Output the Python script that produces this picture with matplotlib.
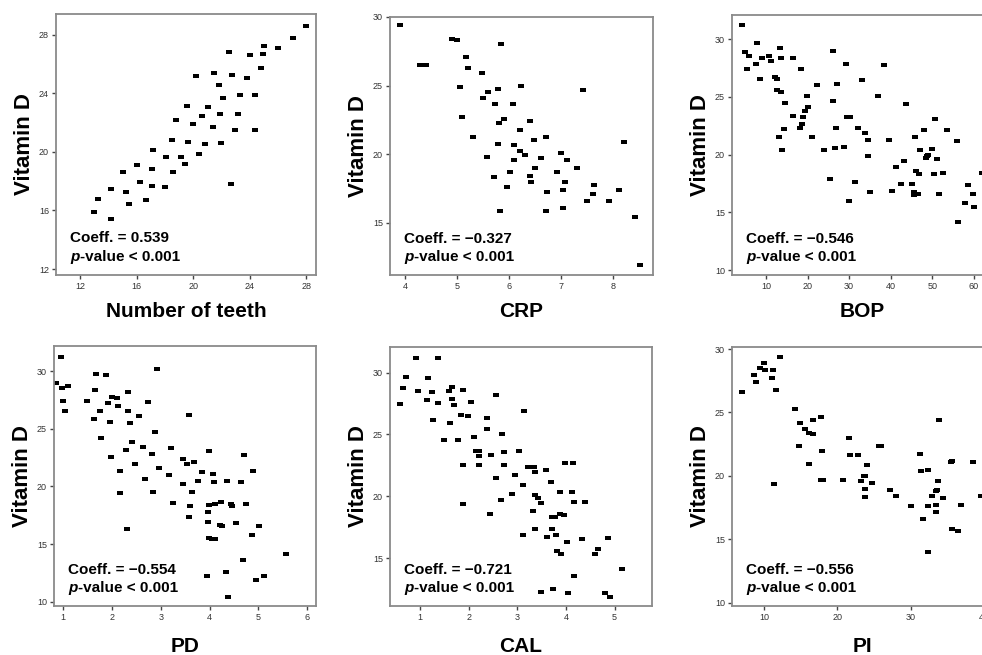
import matplotlib
matplotlib.use("Agg")
import matplotlib.pyplot as plt
from matplotlib.path import Path

plt.rcParams["font.family"] = ["Liberation Sans", "DejaVu Sans"]

# ---- data (x: clinical parameter, y: vitamin D) ----
teeth_x = [13.0, 13.25, 14.2, 14.17, 15.07, 15.23, 15.45, 16.0, 16.25, 16.65,
           17.1, 17.07, 17.17, 18.04, 18.1, 18.5, 18.6, 18.8, 19.15, 19.4,
           19.58, 19.65, 20.0, 20.2, 20.4, 20.66, 20.87, 21.06, 21.4, 21.5,
           21.8, 21.9, 22.0, 22.1, 22.57, 22.7, 22.76, 23.0, 23.2, 23.3,
           23.8, 24.04, 24.4, 24.4, 24.8, 24.96, 25.0, 26.0, 27.06, 28.0]
teeth_y = [15.9, 16.77, 17.45, 15.43, 18.6, 17.24, 16.47, 19.1, 17.92, 16.72,
           18.8, 17.67, 20.1, 17.63, 19.65, 20.78, 18.63, 22.17, 19.67, 19.17,
           23.12, 20.69, 21.87, 25.14, 19.83, 22.46, 20.51, 23.07, 21.67, 25.41,
           24.55, 22.55, 20.62, 23.64, 26.84, 17.79, 25.23, 21.49, 22.57, 23.89,
           25.05, 26.57, 23.87, 21.49, 25.73, 26.64, 27.25, 27.07, 27.75, 28.61]

crp_x = [3.9, 4.29, 4.4, 4.9, 5.0, 5.17, 5.2, 5.05, 5.1, 5.3,
         5.47, 5.5, 5.6, 5.58, 5.7, 5.72, 5.78, 5.8, 5.78, 5.85,
         5.83, 5.9, 5.95, 6.01, 6.08, 6.1, 6.09, 6.2, 6.2, 6.22,
         6.31, 6.39, 6.4, 6.41, 6.47, 6.5, 6.6, 6.7, 6.72, 6.7,
         6.92, 7.0, 7.03, 7.03, 7.07, 7.1, 7.31, 7.42, 7.5, 7.62,
         7.61, 7.92, 8.1, 8.2, 8.42, 8.51]
crp_y = [29.42, 26.52, 26.52, 28.42, 28.34, 27.08, 26.25, 24.89, 22.72, 21.26,
         25.93, 24.08, 24.55, 19.77, 18.36, 23.69, 24.74, 22.3, 20.72, 28.03,
         15.83, 22.55, 17.58, 18.7, 23.62, 20.67, 19.55, 21.77, 20.21, 24.98,
         19.9, 22.43, 18.39, 18.0, 21.04, 19.02, 19.75, 21.26, 17.22, 15.83,
         18.7, 20.09, 17.39, 16.07, 17.95, 19.55, 18.95, 24.67, 16.6, 17.78,
         17.07, 16.6, 17.39, 20.87, 15.41, 11.93]

bop_x = [4.23, 4.87, 5.51, 5.91, 7.68, 7.92, 8.56, 8.96, 10.72, 11.2,
         12.24, 12.64, 12.64, 13.36, 13.52, 13.52, 13.2, 13.77, 14.25, 14.65,
         16.57, 16.57, 18.09, 18.49, 18.57, 18.81, 19.38, 19.94, 20.02, 21.14,
         22.26, 23.86, 25.46, 26.02, 26.18, 26.82, 27.0, 26.5, 28.67, 29.23,
         29.39, 30.19, 29.95, 31.47, 32.2, 33.0, 33.8, 34.52, 34.52, 34.92,
         37.0, 38.45, 39.49, 40.2, 41.3, 42.4, 43.3, 43.7, 45.0, 45.8,
         45.66, 46.0, 45.7, 46.5, 46.9, 47.0, 48.06, 48.46, 48.62, 49.0,
         49.9, 50.4, 50.6, 51.2, 51.7, 52.6, 53.43, 55.83, 56.07, 57.76,
         58.65, 59.84, 59.94, 61.86]
bop_y = [31.18, 28.9, 27.4, 28.5, 27.83, 29.62, 26.5, 28.35, 28.5, 28.06,
         26.7, 26.5, 25.58, 29.22, 28.35, 25.4, 21.56, 20.4, 22.2, 24.45,
         23.35, 28.35, 22.28, 27.4, 22.66, 23.29, 23.76, 25.09, 24.13, 21.56,
         26.01, 20.4, 17.86, 24.62, 28.99, 22.28, 26.07, 20.55, 20.64, 27.86,
         23.24, 23.24, 15.95, 17.66, 22.28, 26.47, 21.88, 21.27, 19.83, 16.73,
         25.09, 27.77, 21.27, 16.88, 18.93, 17.43, 19.4, 24.39, 17.43, 21.53,
         16.76, 18.58, 16.5, 16.56, 18.32, 20.4, 22.14, 19.68, 19.88, 19.97,
         20.46, 18.35, 23.06, 19.62, 16.6, 18.44, 22.14, 21.13, 14.16, 15.81,
         17.34, 16.6, 15.43, 18.38]

pd_x = [0.86, 0.95, 0.98, 1.0, 1.05, 1.11, 1.5, 1.63, 1.65, 1.68,
        1.75, 1.78, 1.89, 1.93, 1.97, 1.99, 2.0, 2.11, 2.13, 2.17,
        2.17, 2.33, 2.34, 2.3, 2.31, 2.38, 2.41, 2.47, 2.56, 2.64,
        2.68, 2.75, 2.82, 2.85, 2.88, 2.93, 2.97, 3.17, 3.21, 3.25,
        3.46, 3.46, 3.54, 3.57, 3.59, 3.6, 3.64, 3.69, 3.77, 3.84,
        3.94, 3.96, 3.97, 3.98, 3.98, 3.99, 4.05, 4.08, 4.1, 4.12,
        4.12, 4.21, 4.23, 4.25, 4.33, 4.36, 4.38, 4.45, 4.46, 4.54,
        4.64, 4.68, 4.7, 4.75, 4.86, 4.89, 4.95, 5.02, 5.12, 5.56]
pd_y = [28.93, 31.18, 28.53, 27.43, 26.56, 28.7, 27.43, 25.81, 28.35, 29.77,
        26.5, 24.19, 29.62, 27.25, 25.58, 22.57, 27.77, 27.63, 26.94, 21.3,
        19.39, 28.18, 26.56, 23.12, 16.27, 25.46, 23.82, 21.97, 26.07, 23.38,
        20.66, 27.31, 22.8, 19.54, 24.68, 30.2, 21.59, 20.98, 23.29, 18.58,
        22.34, 20.17, 21.91, 17.34, 26.18, 18.29, 19.48, 22.11, 20.46, 21.24,
        12.25, 16.88, 17.77, 18.38, 23.09, 15.54, 15.46, 21.09, 20.37, 15.4,
        18.44, 16.64, 18.61, 16.56, 12.57, 20.46, 10.4, 18.47, 18.29, 16.84,
        20.37, 13.6, 22.74, 18.44, 15.78, 21.33, 11.87, 16.56, 12.25, 14.15]

cal_x = [0.59, 0.66, 0.71, 0.92, 0.95, 1.14, 1.17, 1.24, 1.27, 1.36,
         1.36, 1.49, 1.6, 1.62, 1.65, 1.65, 1.69, 1.78, 1.84, 1.88,
         1.89, 1.89, 1.99, 2.04, 2.1, 2.15, 2.21, 2.22, 2.21, 2.37,
         2.37, 2.43, 2.46, 2.56, 2.57, 2.69, 2.72, 2.72, 2.67, 2.89,
         2.96, 3.04, 3.13, 3.11, 3.12, 3.22, 3.33, 3.35, 3.37, 3.37,
         3.42, 3.36, 3.49, 3.59, 3.61, 3.48, 3.7, 3.72, 3.78, 3.72,
         3.73, 3.8, 3.81, 3.88, 3.88, 3.9, 3.96, 3.98, 4.03, 4.04,
         4.14, 4.13, 4.16, 4.16, 4.34, 4.4, 4.59, 4.66, 4.87, 4.81,
         4.91, 5.16]
cal_y = [27.42, 28.71, 29.62, 31.18, 28.49, 27.77, 29.57, 28.41, 26.18, 31.18,
         27.5, 24.54, 28.49, 25.91, 28.84, 27.9, 27.39, 24.54, 26.59, 28.6,
         22.55, 19.35, 26.48, 27.61, 24.81, 23.63, 23.63, 23.25, 22.53, 26.32,
         25.43, 18.55, 23.33, 21.48, 28.17, 25.03, 23.58, 22.53, 19.68, 20.19,
         21.72, 23.68, 26.91, 20.91, 16.88, 22.39, 18.82, 22.39, 20.11, 21.96,
         19.89, 17.39, 19.46, 22.12, 16.69, 12.26, 21.13, 18.31, 18.31, 17.37,
         12.53, 16.91, 15.62, 20.38, 18.58, 15.38, 18.49, 22.72, 16.32, 12.23,
         22.72, 20.38, 19.54, 13.58, 16.53, 19.54, 15.38, 15.73, 16.61, 12.23,
         11.91, 14.14]

pi_x = [7.0, 8.59, 8.96, 9.5, 9.95, 10.09, 11.13, 11.27, 11.59, 11.36,
        12.22, 14.26, 14.94, 14.81, 15.53, 16.17, 16.62, 16.12, 16.67, 17.76,
        17.71, 17.98, 17.89, 20.79, 21.56, 21.75, 22.79, 23.24, 23.65, 23.83,
        24.06, 23.74, 23.79, 24.74, 25.65, 26.0, 27.19, 28.05, 30.05, 31.22,
        31.45, 31.63, 32.4, 32.31, 32.4, 33.67, 33.4, 33.6, 32.95, 34.44,
        33.4, 33.4, 33.85, 35.49, 35.67, 38.53, 36.85, 35.67, 36.4, 39.52]
pi_y = [26.58, 27.95, 27.39, 28.47, 28.87, 28.37, 27.68, 28.37, 26.79, 19.39,
        29.34, 25.24, 24.18, 22.39, 23.68, 23.39, 23.32, 20.92, 24.39, 24.61,
        19.71, 19.71, 21.95, 19.68, 22.95, 21.61, 21.68, 19.61, 20.0, 20.0,
        20.84, 18.97, 18.34, 19.47, 22.34, 22.39, 18.89, 18.42, 17.63, 21.74,
        20.39, 16.63, 20.47, 17.63, 14.0, 19.61, 18.8, 18.85, 18.39, 18.26,
        17.74, 17.13, 24.37, 21.13, 21.16, 21.11, 17.68, 15.84, 15.63, 18.39]

x_labels = ["Number of teeth", "CRP", "BOP", "PD", "CAL", "PI"]
coeffs = ["0.539", "\u22120.327", "\u22120.546", "\u22120.554", "\u22120.721", "\u22120.556"]
p_text = "-value < 0.001"

W, H = 982, 655

# small wide rectangle marker, like the SPSS dots
rect = Path([(-1.5, -1), (1.5, -1), (1.5, 1), (-1.5, 1), (-1.5, -1)],
            [Path.MOVETO, Path.LINETO, Path.LINETO, Path.LINETO, Path.CLOSEPOLY])


def main() -> None:
    fig = plt.figure(figsize=(W / 100, H / 100), dpi=100)

    # (data, box in pixels [left, top, right, bottom], xlim, ylim, xticks, yticks)
    panels = [
        (teeth_x, teeth_y, (56, 14, 316, 275), (10.3, 28.7), (11.6, 29.4),
         [12, 16, 20, 24, 28], [12, 16, 20, 24, 28]),
        (crp_x, crp_y, (390, 17, 653, 275), (3.71, 8.76), (11.18, 30.0),
         [4, 5, 6, 7, 8], [15, 20, 25, 30]),
        (bop_x, bop_y, (732, 15, 993, 275), (1.83, 64.6), (9.57, 32.08),
         [10, 20, 30, 40, 50, 60], [10, 15, 20, 25, 30]),
        (pd_x, pd_y, (54, 346, 316, 606), (0.816, 6.18), (9.63, 32.17),
         [1, 2, 3, 4, 5, 6], [10, 15, 20, 25, 30]),
        (cal_x, cal_y, (390, 347, 652, 606), (0.383, 5.77), (11.15, 32.06),
         [1, 2, 3, 4, 5], [15, 20, 25, 30]),
        (pi_x, pi_y, (732, 347, 993, 606), (5.65, 41.2), (9.74, 30.16),
         [10, 20, 30, 40], [10, 15, 20, 25, 30]),
    ]

    for i, (xs, ys, box, xlim, ylim, xt, yt) in enumerate(panels):
        l, t, r, b = box
        ax = fig.add_axes([l / W, 1 - b / H, (r - l) / W, (b - t) / H])
        ax.scatter(xs, ys, marker=rect, s=13, c="black", linewidths=0)
        ax.set_xlim(*xlim)
        ax.set_ylim(*ylim)
        ax.set_xticks(xt)
        ax.set_yticks(yt)
        for sp in ax.spines.values():
            sp.set_color("#8a8a8a")
            sp.set_linewidth(1.3)
        ax.tick_params(direction="out", length=3, width=1, color="#444444",
                       labelsize=6.5, labelcolor="#333333", pad=2)

        ax.set_ylabel("Vitamin D", fontsize=16, fontweight="bold", labelpad=3)
        pad = 8 if i < 3 else 11
        ax.set_xlabel(x_labels[i], fontsize=15, fontweight="bold", labelpad=pad)

        ax.text(0.055, 0.14, "Coeff. = " + coeffs[i], transform=ax.transAxes,
                fontsize=11, fontweight="bold", va="center", ha="left")
        tp = ax.text(0.055, 0.07, "p", transform=ax.transAxes, fontsize=11,
                     fontweight="bold", style="italic", va="center", ha="left")
        ax.annotate(p_text, xy=(1, 0), xycoords=tp, va="bottom", ha="left",
                    fontsize=11, fontweight="bold")

    fig.savefig("out.png", dpi=100)


if __name__ == "__main__":
    main()
